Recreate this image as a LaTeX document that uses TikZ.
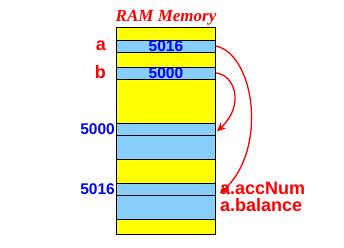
\documentclass[tikz,border=0pt]{standalone}
\usepackage{fontspec}
\setmainfont{Liberation Sans}
\newfontfamily\titlefont{Liberation Serif}
\usetikzlibrary{arrows.meta,positioning}
\definecolor{ryellow}{HTML}{FFFF00}
\definecolor{rblue}{HTML}{87CEFA}
\definecolor{rtext}{HTML}{0000FF}
\definecolor{rred}{HTML}{FF0000}
\tikzset{
  cell/.style={draw=black,line width=0.9pt,minimum width=99pt,inner sep=0pt,anchor=north west},
  val/.style={text=rtext,font=\fontsize{15.5}{16}\selectfont\bfseries,inner sep=0pt},
  var/.style={text=rred,font=\fontsize{18}{19}\selectfont\bfseries,inner sep=0pt},
  rarr/.style={-{Stealth[length=9pt,width=8pt]},line width=1.3pt,draw=rred},
}
\begin{document}
\begin{tikzpicture}[x=1pt,y=-1pt]
  \useasboundingbox (0,0) rectangle (344,247);
  \foreach \t/\h/\c [count=\k] in {27/12.5/ryellow,39.5/12/rblue,51.5/15/ryellow,66.5/12/rblue,78.5/44.5/ryellow,123/12/rblue,135/24/rblue,159/24/ryellow,183/12/rblue,195/24/rblue,219/15/ryellow}
    \node[cell,fill=\c,minimum height=\h pt] (r\k) at (116,\t) {};
  \node[text=rred,font=\titlefont\fontsize{17}{18}\selectfont\bfseries\itshape,anchor=base,inner sep=0pt] (title) at (166,21.7) {RAM Memory};
  \node[val] (pa) at (r2) {5016};
  \node[val] (pb) at (r4) {5000};
  \node[var,anchor=east] (a) at (106,46) {a};
  \node[var,anchor=east] (b) at (106,72) {b};
  \node[val,anchor=east] (adb) at ([xshift=-1pt]r6.west) {5000};
  \node[val,anchor=east] (ada) at ([xshift=-1pt]r9.west) {5016};
  \node[var,anchor=west] (acc) at ([xshift=4pt,yshift=1pt]r9.east) {a.accNum};
  \node[var,anchor=north west] (bal) at ([yshift=-3pt]acc.south west) {a.balance};
  \draw[rarr] (r2.east) .. controls (255,55) and (268,150) .. ([xshift=4pt,yshift=-4pt]r9.east);
  \draw[rarr] (r4.east) .. controls (235,75) and (245,105) .. ([xshift=1pt,yshift=-2pt]r6.east);
\end{tikzpicture}
\end{document}
